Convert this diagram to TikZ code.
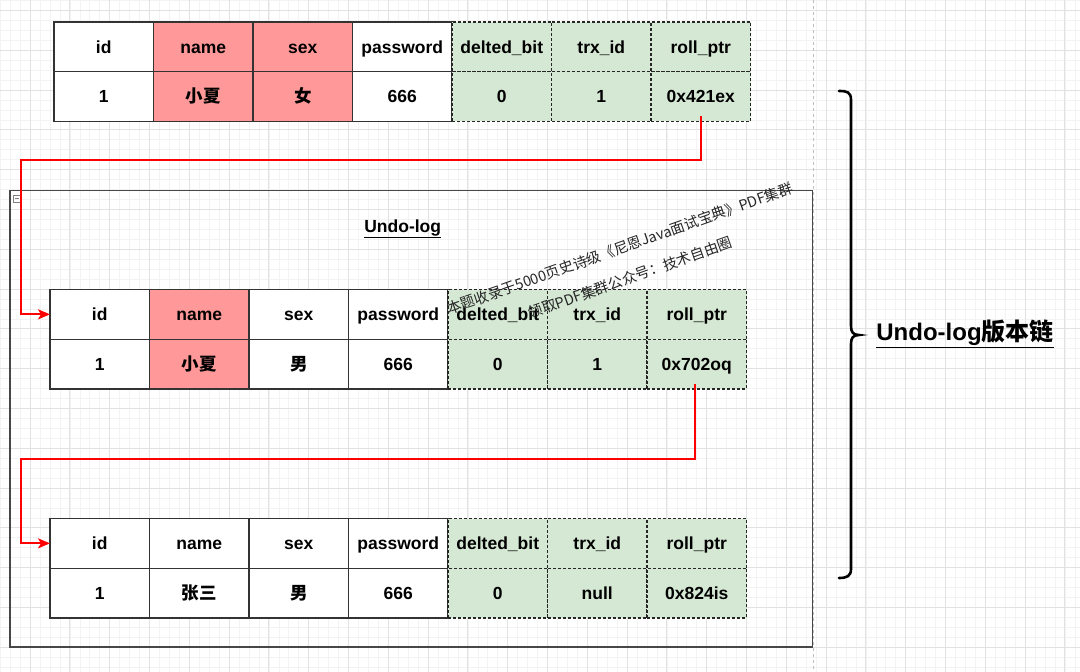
\documentclass[tikz,border=0pt]{standalone}
\usepackage{fontspec}
\setmainfont{Liberation Sans}
\newfontfamily\cjk{Noto Sans CJK SC}
\usetikzlibrary{arrows.meta}
\definecolor{pinkc}{HTML}{FF9999}
\definecolor{greenc}{HTML}{D5E8D4}
\definecolor{edgec}{HTML}{333333}
\definecolor{minorg}{HTML}{F3F3F3}
\definecolor{majorg}{HTML}{E2E2E2}
\newcommand\zh[1]{{\cjk #1}}
\tikzset{
  cellbase/.style={rectangle, minimum width=99.5pt, minimum height=49.7pt, inner sep=0pt, outer sep=0pt,
    text height=12.6pt, text depth=0pt,
    draw=edgec, line width=1.2pt, font=\fontsize{17.5}{20}\selectfont\bfseries, text=black, anchor=north west},
  wcell/.style={cellbase, fill=white},
  pcell/.style={cellbase, fill=pinkc},
  gcell/.style={cellbase, fill=greenc, draw=black!85, dash pattern=on 3pt off 2pt},
  redarrow/.style={draw=red, line width=2pt, -{Stealth[length=12pt,width=10pt,inset=3pt]}},
  minorgrid/.style={draw=minorg, line width=0.5pt},
  majorgrid/.style={draw=majorg, line width=0.7pt},
  bracestyle/.style={draw=black, line width=2.6pt, line cap=round},
  titletext/.style={font=\fontsize{17.5}{20}\selectfont\bfseries, text=black},
  marktext/.style={font=\fontsize{14.5}{31}\selectfont\cjk, text=black!85, align=center, rotate=19.5},
}
% header row: #1 prefix, #2 x0, #3 y0, #4 style name, #5 style sex
\newcommand\hdr[5]{%
  \node[wcell] (#1h1) at (#2,#3) {id};
  \node[#4] (#1h2) at ({#2+99.5},#3) {name};
  \node[#5] (#1h3) at ({#2+199},#3) {sex};
  \node[wcell] (#1h4) at ({#2+298.5},#3) {password};
  \node[gcell] (#1h5) at ({#2+398},#3) {delted\_bit};
  \node[gcell] (#1h6) at ({#2+497.5},#3) {trx\_id};
  \node[gcell] (#1h7) at ({#2+597},#3) {roll\_ptr};
}
% value row: #1 prefix, #2 x0, #3 y0, #4 style name, #5 style sex, #6 name, #7 sex, #8 trx, #9 roll
\newcommand\vals[9]{%
  \node[wcell] (#1v1) at (#2,#3) {1};
  \node[#4] (#1v2) at ({#2+99.5},#3) {#6};
  \node[#5] (#1v3) at ({#2+199},#3) {#7};
  \node[wcell] (#1v4) at ({#2+298.5},#3) {666};
  \node[gcell] (#1v5) at ({#2+398},#3) {0};
  \node[gcell] (#1v6) at ({#2+497.5},#3) {#8};
  \node[gcell] (#1v7) at ({#2+597},#3) {#9};
}
\begin{document}
\begin{tikzpicture}[x=1pt,y=-1pt]
\useasboundingbox (0,0) rectangle (1080,672);
\fill[white] (0,0) rectangle (1080,672);
% background grid
\foreach \k in {0,...,108} \draw[minorgrid] ({0.15+\k*9.95},0) -- ({0.15+\k*9.95},672);
\foreach \k in {0,...,67} \draw[minorgrid] (0,{0.35+\k*9.95}) -- (1080,{0.35+\k*9.95});
\foreach \k in {0,...,26} \draw[majorgrid] ({30+\k*39.8},0) -- ({30+\k*39.8},672);
\foreach \k in {0,...,16} \draw[majorgrid] (0,{10.3+\k*39.8}) -- (1080,{10.3+\k*39.8});
% page break line
\draw[black!25, dash pattern=on 3pt off 3pt, line width=0.6pt] (813,0) -- (813,672);

% container
\draw[black!72, line width=1.1pt] (10,190.7) rectangle (812.5,647);
\draw[black!50, line width=0.6pt] (13,195) rectangle (20,202);
\draw[black!50, line width=0.6pt] (14.5,198.5) -- (18.5,198.5);
\node[titletext] (undotitle) at (402.7,229) {\underline{Undo-log}};

% tables
\hdr{A}{54}{22}{pcell}{pcell}
\vals{A}{54}{71.7}{pcell}{pcell}{\zh{小夏}}{\zh{女}}{1}{0x421ex}
\hdr{B}{50}{289.5}{pcell}{wcell}
\vals{B}{50}{339.2}{pcell}{wcell}{\zh{小夏}}{\zh{男}}{1}{0x702oq}
\hdr{C}{50}{518.5}{wcell}{wcell}
\vals{C}{50}{568.2}{wcell}{wcell}{\zh{张三}}{\zh{男}}{null}{0x824is}

% arrows
\coordinate (r1) at (21,160);
\coordinate (r2) at (21,458.5);
\draw[redarrow] ([yshift=5pt]Av7.south) |- (r1) |- (Bh1.west);
\draw[redarrow] ([yshift=5pt,xshift=-2pt]Bv7.south) |- (r2) |- (Ch1.west);

% watermark
\node[marktext] (mark) at (625,263) {本题收录于5000页史诗级《尼恩Java面试宝典》PDF集群\\领取PDF集群公众号：技术自由圈};

% brace
\draw[bracestyle] (839,91) .. controls (847,91) and (851,92) .. (851,100) -- (851,326)
  .. controls (851,332) and (853,335) .. (859,335)
  .. controls (853,335) and (851,338) .. (851,344) -- (851,569)
  .. controls (851,576) and (847,578) .. (839,578);
\node[font=\fontsize{24}{28}\selectfont\bfseries, text=black] (chainlabel) at (965,334) {\underline{Undo-log\zh{版本链}}};
\end{tikzpicture}
\end{document}
